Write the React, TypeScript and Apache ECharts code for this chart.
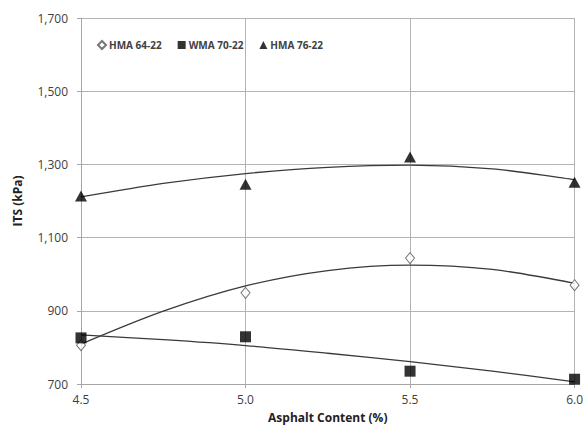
import React, { useEffect, useRef } from "react";
import * as echarts from "echarts";

const asphaltContent = [4.5, 5.0, 5.5, 6.0];
const hma6422 = [806, 949, 1044, 970];
const wma7022 = [826, 829, 735, 713];
const hma7622 = [1214, 1246, 1320, 1251];

// trend-line readings
const trendX = [4.5, 4.75, 5.0, 5.25, 5.5, 5.75, 6.0];
const trendHma6422 = [809, 899, 968, 1010, 1025, 1013, 975];
const trendWma7022 = [834, 821, 805, 784, 761, 735, 706];
const trendHma7622 = [1211, 1248, 1275, 1292, 1298, 1288, 1258];

const yTicks = { min: 700, max: 1700, interval: 200 };
const xTicks = { min: 4.5, max: 6.0, interval: 0.5 };

const pair = (xs: number[], ys: number[]) => xs.map((x, i) => [x, ys[i]]);

export default function App() {
  const ref = useRef<HTMLDivElement>(null);
  useEffect(() => {
    if (!ref.current) return;
    const chart = echarts.init(ref.current, null, { renderer: "svg" });
    const font = "'Open Sans', 'Noto Sans', sans-serif";
    const trendStyle = { color: "#3a3a3a", width: 1.3 };
    const trend = (name: string, ys: number[]) => ({
      name,
      type: "line",
      data: pair(trendX, ys),
      smooth: 0.3,
      showSymbol: false,
      symbol: "none",
      lineStyle: trendStyle,
      z: 2,
      silent: true,
    });
    chart.setOption({
      animation: false,
      backgroundColor: "#ffffff",
      textStyle: { fontFamily: font },
      grid: { left: 81, right: 7, top: 18, bottom: 46, containLabel: false },
      legend: {
        data: ["HMA 64-22", "WMA 70-22", "HMA 76-22"],
        left: 92,
        top: 35,
        itemWidth: 8,
        itemHeight: 8,
        itemGap: 16,
        textStyle: { fontFamily: font, fontSize: 10, fontWeight: "bold", color: "#404040", padding: [0, 0, 0, -2] },
      },
      xAxis: {
        type: "value",
        min: xTicks.min,
        max: xTicks.max,
        interval: xTicks.interval,
        name: "Asphalt Content (%)",
        nameLocation: "middle",
        nameGap: 27,
        nameTextStyle: { fontFamily: font, fontSize: 12, fontWeight: "bold", color: "#222" },
        axisLine: { show: true, lineStyle: { color: "#a6a6a6", width: 1 } },
        axisTick: { show: true, length: 4, lineStyle: { color: "#a6a6a6" } },
        axisLabel: {
          fontFamily: font,
          fontSize: 12,
          color: "#404040",
          margin: 9,
          formatter: (v: number) => v.toFixed(1),
        },
        splitLine: { show: true, lineStyle: { color: "#b3b3b3", width: 1 } },
      },
      yAxis: {
        type: "value",
        min: yTicks.min,
        max: yTicks.max,
        interval: yTicks.interval,
        name: "ITS (kPa)",
        nameLocation: "middle",
        nameGap: 58,
        nameRotate: 90,
        nameTextStyle: { fontFamily: font, fontSize: 12, fontWeight: "bold", color: "#222" },
        axisLine: { show: true, lineStyle: { color: "#a6a6a6", width: 1 } },
        axisTick: { show: true, length: 4, lineStyle: { color: "#a6a6a6" } },
        axisLabel: {
          fontFamily: font,
          fontSize: 12,
          color: "#404040",
          margin: 13,
          formatter: (v: number) => v.toLocaleString("en-US"),
        },
        splitLine: { show: true, lineStyle: { color: "#b3b3b3", width: 1 } },
      },
      series: [
        trend("trend 64-22", trendHma6422),
        trend("trend 70-22", trendWma7022),
        trend("trend 76-22", trendHma7622),
        {
          name: "HMA 64-22",
          type: "scatter",
          data: pair(asphaltContent, hma6422),
          symbol: "diamond",
          symbolSize: [9, 11],
          itemStyle: { color: "#ffffff", borderColor: "#555555", borderWidth: 1 },
          z: 5,
        },
        {
          name: "WMA 70-22",
          type: "scatter",
          data: pair(asphaltContent, wma7022),
          symbol: "rect",
          symbolSize: 11,
          itemStyle: { color: "#000000" },
          z: 6,
        },
        {
          name: "HMA 76-22",
          type: "scatter",
          data: pair(asphaltContent, hma7622),
          symbol: "triangle",
          symbolSize: [12, 11],
          itemStyle: { color: "#000000" },
          z: 7,
        },
      ],
    });
    return () => chart.dispose();
  }, []);
  return (
    <div
      ref={ref}
      style={{ position: "absolute", left: 0, top: 0, width: 586, height: 430, background: "#fff" }}
    />
  );
}
